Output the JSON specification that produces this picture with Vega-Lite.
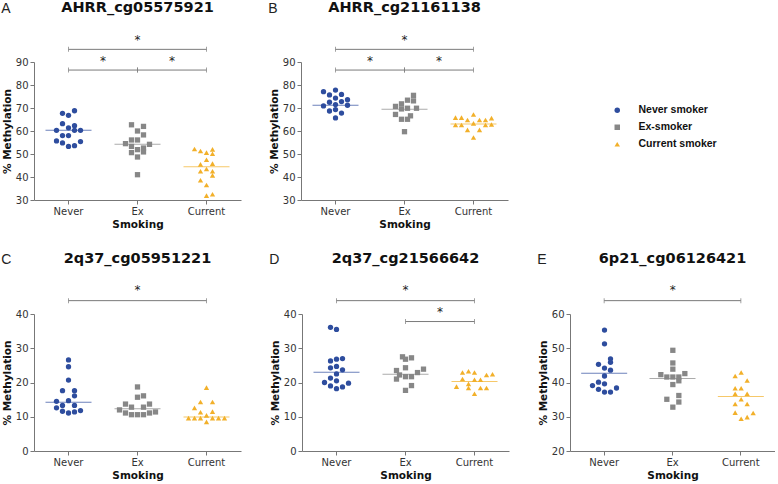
{
"$schema": "https://vega.github.io/schema/vega-lite/v6.json",
"background": "white",
"padding": {"left": 1, "top": 0, "right": 0, "bottom": 0},
"config": {
  "view": {"stroke": null},
  "font": "DejaVu Sans",
  "axis": {"labelFont": "DejaVu Sans", "labelFontSize": 10, "labelColor": "#333333", "titleFont": "DejaVu Sans", "titleFontSize": 10.5, "titleFontWeight": "bold", "titleColor": "#111111", "domainColor": "#777777", "tickColor": "#777777", "tickSize": 4, "grid": false, "labelPadding": 2, "labelOverlap": false},
  "axisX": {"labelAngle": 0, "titlePadding": 3},
  "axisY": {"titlePadding": 3},
  "title": {"font": "Liberation Sans", "fontSize": 14, "fontWeight": "normal", "anchor": "start", "frame": "bounds", "color": "#222222", "offset": -16, "dx": -1},
  "legend": {"title": null, "labelFont": "Liberation Sans", "labelFontWeight": "bold", "labelFontSize": 10.5, "labelColor": "#111111", "symbolSize": 30, "labelOffset": 16, "rowPadding": 6, "symbolStrokeWidth": 0, "padding": 0}
},
"datasets": {
  "points": [
    {"p":"A","g":"Never","s":-1,"v":67.7},{"p":"A","g":"Never","s":0,"v":66.8},{"p":"A","g":"Never","s":1,"v":68.8},
    {"p":"A","g":"Never","s":-1,"v":63.2},{"p":"A","g":"Never","s":1,"v":62.3},{"p":"A","g":"Never","s":0,"v":61.4},
    {"p":"A","g":"Never","s":1,"v":60.3},{"p":"A","g":"Never","s":-2,"v":60.3},{"p":"A","g":"Never","s":2,"v":60.3},
    {"p":"A","g":"Never","s":-1,"v":58.0},{"p":"A","g":"Never","s":0,"v":58.0},{"p":"A","g":"Never","s":-2,"v":55.7},
    {"p":"A","g":"Never","s":-1,"v":54.8},{"p":"A","g":"Never","s":0,"v":53.3},{"p":"A","g":"Never","s":1,"v":53.6},{"p":"A","g":"Never","s":2,"v":55.4},
    {"p":"A","g":"Ex","s":-1,"v":62.7},{"p":"A","g":"Ex","s":1,"v":62.0},{"p":"A","g":"Ex","s":0,"v":60.0},{"p":"A","g":"Ex","s":1,"v":58.3},
    {"p":"A","g":"Ex","s":-1,"v":56.1},{"p":"A","g":"Ex","s":0,"v":56.1},{"p":"A","g":"Ex","s":-2,"v":54.5},{"p":"A","g":"Ex","s":2,"v":54.2},
    {"p":"A","g":"Ex","s":-1,"v":53.3},{"p":"A","g":"Ex","s":0,"v":51.9},{"p":"A","g":"Ex","s":1,"v":52.6},{"p":"A","g":"Ex","s":1,"v":50.9},
    {"p":"A","g":"Ex","s":-1,"v":50.6},{"p":"A","g":"Ex","s":0,"v":48.7},{"p":"A","g":"Ex","s":0,"v":41.0},
    {"p":"A","g":"Current","s":-2,"v":52.2},{"p":"A","g":"Current","s":-1,"v":51.3},{"p":"A","g":"Current","s":0,"v":50.6},{"p":"A","g":"Current","s":1,"v":52.0},
    {"p":"A","g":"Current","s":1,"v":50.1},{"p":"A","g":"Current","s":0,"v":47.5},{"p":"A","g":"Current","s":-1,"v":45.5},{"p":"A","g":"Current","s":1,"v":45.8},
    {"p":"A","g":"Current","s":0,"v":43.5},{"p":"A","g":"Current","s":-1,"v":42.5},{"p":"A","g":"Current","s":1,"v":42.5},{"p":"A","g":"Current","s":1,"v":40.7},
    {"p":"A","g":"Current","s":-1,"v":38.6},{"p":"A","g":"Current","s":0,"v":36.5},{"p":"A","g":"Current","s":0,"v":31.9},{"p":"A","g":"Current","s":1,"v":32.5},

    {"p":"B","g":"Never","s":-2,"v":77.1},{"p":"B","g":"Never","s":0,"v":77.8},{"p":"B","g":"Never","s":-1,"v":75.7},{"p":"B","g":"Never","s":1,"v":75.9},
    {"p":"B","g":"Never","s":0,"v":74.3},{"p":"B","g":"Never","s":2,"v":73.6},{"p":"B","g":"Never","s":-1,"v":72.5},{"p":"B","g":"Never","s":1,"v":72.8},
    {"p":"B","g":"Never","s":-2,"v":70.9},{"p":"B","g":"Never","s":0,"v":71.5},{"p":"B","g":"Never","s":2,"v":71.2},{"p":"B","g":"Never","s":0,"v":69.3},
    {"p":"B","g":"Never","s":-1,"v":68.7},{"p":"B","g":"Never","s":1,"v":67.8},{"p":"B","g":"Never","s":0,"v":65.7},
    {"p":"B","g":"Ex","s":1.5,"v":75.5},{"p":"B","g":"Ex","s":0.5,"v":73.4},{"p":"B","g":"Ex","s":1.5,"v":73.1},{"p":"B","g":"Ex","s":-0.5,"v":71.8},
    {"p":"B","g":"Ex","s":-1.5,"v":70.7},{"p":"B","g":"Ex","s":0.5,"v":69.9},{"p":"B","g":"Ex","s":-0.5,"v":69.6},{"p":"B","g":"Ex","s":2,"v":69.9},
    {"p":"B","g":"Ex","s":-1.5,"v":67.2},{"p":"B","g":"Ex","s":1,"v":66.6},{"p":"B","g":"Ex","s":-0.5,"v":65.1},{"p":"B","g":"Ex","s":0.5,"v":65.1},
    {"p":"B","g":"Ex","s":0,"v":59.7},
    {"p":"B","g":"Current","s":-3,"v":65.8},{"p":"B","g":"Current","s":-2,"v":65.8},{"p":"B","g":"Current","s":-1,"v":64.8},{"p":"B","g":"Current","s":0,"v":67.2},
    {"p":"B","g":"Current","s":1,"v":64.8},{"p":"B","g":"Current","s":2,"v":64.8},{"p":"B","g":"Current","s":3,"v":65.6},
    {"p":"B","g":"Current","s":-3,"v":62.6},{"p":"B","g":"Current","s":-2,"v":62.6},{"p":"B","g":"Current","s":0,"v":63.3},
    {"p":"B","g":"Current","s":2,"v":62.6},{"p":"B","g":"Current","s":3,"v":62.8},{"p":"B","g":"Current","s":-1,"v":60.5},
    {"p":"B","g":"Current","s":1,"v":60.5},{"p":"B","g":"Current","s":0,"v":57.2},

    {"p":"C","g":"Never","s":0,"v":26.6},{"p":"C","g":"Never","s":0,"v":24.6},{"p":"C","g":"Never","s":0,"v":20.7},{"p":"C","g":"Never","s":-1,"v":17.6},
    {"p":"C","g":"Never","s":1,"v":17.6},{"p":"C","g":"Never","s":1,"v":16.1},{"p":"C","g":"Never","s":0,"v":14.7},{"p":"C","g":"Never","s":-2,"v":14.5},
    {"p":"C","g":"Never","s":-1,"v":13.3},{"p":"C","g":"Never","s":1,"v":13.3},{"p":"C","g":"Never","s":-2,"v":12.6},{"p":"C","g":"Never","s":2,"v":11.8},
    {"p":"C","g":"Never","s":-1,"v":11.6},{"p":"C","g":"Never","s":1,"v":11.4},{"p":"C","g":"Never","s":0,"v":11.1},
    {"p":"C","g":"Ex","s":0,"v":18.7},{"p":"C","g":"Ex","s":0,"v":15.7},{"p":"C","g":"Ex","s":1,"v":16.1},{"p":"C","g":"Ex","s":-2,"v":13.7},
    {"p":"C","g":"Ex","s":2,"v":13.7},{"p":"C","g":"Ex","s":-1,"v":12.8},{"p":"C","g":"Ex","s":1,"v":12.8},{"p":"C","g":"Ex","s":-3,"v":12.0},
    {"p":"C","g":"Ex","s":3,"v":11.4},{"p":"C","g":"Ex","s":-2,"v":11.1},{"p":"C","g":"Ex","s":-1,"v":10.6},{"p":"C","g":"Ex","s":0,"v":10.6},
    {"p":"C","g":"Ex","s":1,"v":10.6},{"p":"C","g":"Ex","s":2,"v":11.1},
    {"p":"C","g":"Current","s":0,"v":18.5},{"p":"C","g":"Current","s":-1,"v":14.3},{"p":"C","g":"Current","s":1,"v":14.3},{"p":"C","g":"Current","s":-2,"v":12.6},
    {"p":"C","g":"Current","s":-1,"v":11.3},{"p":"C","g":"Current","s":1,"v":11.5},{"p":"C","g":"Current","s":0,"v":10.4},{"p":"C","g":"Current","s":-3,"v":9.6},
    {"p":"C","g":"Current","s":-2,"v":9.6},{"p":"C","g":"Current","s":-1,"v":9.6},{"p":"C","g":"Current","s":1,"v":9.6},{"p":"C","g":"Current","s":2,"v":9.6},
    {"p":"C","g":"Current","s":3,"v":9.6},{"p":"C","g":"Current","s":0,"v":8.5},

    {"p":"D","g":"Never","s":-1,"v":36.1},{"p":"D","g":"Never","s":0,"v":35.5},{"p":"D","g":"Never","s":-1,"v":26.3},{"p":"D","g":"Never","s":0,"v":26.8},
    {"p":"D","g":"Never","s":1,"v":27.0},{"p":"D","g":"Never","s":-1,"v":24.3},{"p":"D","g":"Never","s":0,"v":24.7},{"p":"D","g":"Never","s":1,"v":23.7},
    {"p":"D","g":"Never","s":0,"v":22.5},{"p":"D","g":"Never","s":-1,"v":21.3},{"p":"D","g":"Never","s":0,"v":20.5},{"p":"D","g":"Never","s":-2,"v":20.0},
    {"p":"D","g":"Never","s":2,"v":19.8},{"p":"D","g":"Never","s":-1,"v":19.0},{"p":"D","g":"Never","s":1,"v":18.7},{"p":"D","g":"Never","s":0,"v":18.2},
    {"p":"D","g":"Ex","s":-0.5,"v":27.5},{"p":"D","g":"Ex","s":1,"v":27.2},{"p":"D","g":"Ex","s":0,"v":26.8},{"p":"D","g":"Ex","s":-1.5,"v":23.5},
    {"p":"D","g":"Ex","s":0,"v":24.3},{"p":"D","g":"Ex","s":3,"v":23.9},{"p":"D","g":"Ex","s":2,"v":22.9},{"p":"D","g":"Ex","s":-1,"v":22.2},
    {"p":"D","g":"Ex","s":1,"v":21.7},{"p":"D","g":"Ex","s":0,"v":21.7},{"p":"D","g":"Ex","s":-1.5,"v":21.0},{"p":"D","g":"Ex","s":1,"v":19.1},
    {"p":"D","g":"Ex","s":0,"v":17.7},
    {"p":"D","g":"Current","s":-2,"v":22.9},{"p":"D","g":"Current","s":-1,"v":23.3},{"p":"D","g":"Current","s":0,"v":22.9},{"p":"D","g":"Current","s":2,"v":22.2},
    {"p":"D","g":"Current","s":3,"v":22.4},{"p":"D","g":"Current","s":-2,"v":21.0},{"p":"D","g":"Current","s":0,"v":20.8},{"p":"D","g":"Current","s":1,"v":20.8},
    {"p":"D","g":"Current","s":-3,"v":18.8},{"p":"D","g":"Current","s":-1,"v":18.4},{"p":"D","g":"Current","s":1,"v":18.4},{"p":"D","g":"Current","s":2,"v":18.4},
    {"p":"D","g":"Current","s":-1,"v":19.6},{"p":"D","g":"Current","s":0,"v":16.7},

    {"p":"E","g":"Never","s":0,"v":55.3},{"p":"E","g":"Never","s":0,"v":51.3},{"p":"E","g":"Never","s":1,"v":46.9},{"p":"E","g":"Never","s":1,"v":45.9},
    {"p":"E","g":"Never","s":-1,"v":45.3},{"p":"E","g":"Never","s":0,"v":44.2},{"p":"E","g":"Never","s":1,"v":43.6},{"p":"E","g":"Never","s":0,"v":41.9},
    {"p":"E","g":"Never","s":-1,"v":40.1},{"p":"E","g":"Never","s":0,"v":39.6},{"p":"E","g":"Never","s":-2,"v":39.1},{"p":"E","g":"Never","s":2,"v":38.4},
    {"p":"E","g":"Never","s":-1,"v":38.0},{"p":"E","g":"Never","s":0,"v":37.2},{"p":"E","g":"Never","s":1,"v":37.2},
    {"p":"E","g":"Ex","s":0,"v":49.4},{"p":"E","g":"Ex","s":0,"v":45.7},{"p":"E","g":"Ex","s":0,"v":43.9},{"p":"E","g":"Ex","s":-2,"v":42.3},
    {"p":"E","g":"Ex","s":2,"v":42.6},{"p":"E","g":"Ex","s":-1,"v":41.6},{"p":"E","g":"Ex","s":0,"v":41.6},{"p":"E","g":"Ex","s":1,"v":41.6},
    {"p":"E","g":"Ex","s":1,"v":40.5},{"p":"E","g":"Ex","s":0,"v":39.4},{"p":"E","g":"Ex","s":1,"v":36.2},{"p":"E","g":"Ex","s":-1,"v":35.1},
    {"p":"E","g":"Ex","s":1,"v":34.3},{"p":"E","g":"Ex","s":0,"v":32.8},
    {"p":"E","g":"Current","s":0,"v":42.9},{"p":"E","g":"Current","s":-1,"v":41.9},{"p":"E","g":"Current","s":1,"v":40.6},{"p":"E","g":"Current","s":-1,"v":38.3},
    {"p":"E","g":"Current","s":0,"v":38.3},{"p":"E","g":"Current","s":-1,"v":36.7},{"p":"E","g":"Current","s":1,"v":36.7},{"p":"E","g":"Current","s":0,"v":35.1},
    {"p":"E","g":"Current","s":-1,"v":33.7},{"p":"E","g":"Current","s":1,"v":33.7},{"p":"E","g":"Current","s":-1,"v":31.2},{"p":"E","g":"Current","s":2,"v":31.1},
    {"p":"E","g":"Current","s":0,"v":29.4},{"p":"E","g":"Current","s":1,"v":29.9}
  ],
  "medians": [
    {"p":"A","g":"Never","v":60.3},{"p":"A","g":"Ex","v":54.2},{"p":"A","g":"Current","v":44.5},
    {"p":"B","g":"Never","v":71.2},{"p":"B","g":"Ex","v":69.5},{"p":"B","g":"Current","v":63.0},
    {"p":"C","g":"Never","v":14.2},{"p":"C","g":"Ex","v":12.3},{"p":"C","g":"Current","v":9.9},
    {"p":"D","g":"Never","v":23.0},{"p":"D","g":"Ex","v":22.4},{"p":"D","g":"Current","v":20.3},
    {"p":"E","g":"Never","v":42.7},{"p":"E","g":"Ex","v":41.2},{"p":"E","g":"Current","v":35.9}
  ],
  "brackets": [
    {"p":"A","from":"Never","to":"Current","y":95.5,"sg":"Ex","so":0,"sy":97.8},
    {"p":"A","from":"Never","to":"Ex","y":86.5,"sg":"Never","so":5.75,"sy":88.9},
    {"p":"A","from":"Ex","to":"Current","y":86.5,"sg":"Ex","so":5.75,"sy":88.9},
    {"p":"B","from":"Never","to":"Current","y":95.5,"sg":"Ex","so":0,"sy":97.8},
    {"p":"B","from":"Never","to":"Ex","y":86.5,"sg":"Never","so":5.75,"sy":88.9},
    {"p":"B","from":"Ex","to":"Current","y":86.5,"sg":"Ex","so":5.75,"sy":88.9},
    {"p":"C","from":"Never","to":"Current","y":43.9,"sg":"Ex","so":0,"sy":45.7},
    {"p":"D","from":"Never","to":"Current","y":43.9,"sg":"Ex","so":0,"sy":45.7},
    {"p":"D","from":"Ex","to":"Current","y":37.8,"sg":"Ex","so":5.75,"sy":39.5},
    {"p":"E","from":"Never","to":"Current","y":63.9,"sg":"Ex","so":0,"sy":65.7}
  ],
  "titles": [
    {"p":"A","g":"Ex","y":111.6,"name":"AHRR_cg05575921"},
    {"p":"B","g":"Ex","y":111.6,"name":"AHRR_cg21161138"},
    {"p":"C","g":"Ex","y":54.8,"name":"2q37_cg05951221"},
    {"p":"D","g":"Ex","y":54.8,"name":"2q37_cg21566642"},
    {"p":"E","g":"Ex","y":74.8,"name":"6p21_cg06126421"}
  ]
},
"bounds": "full",
"spacing": 21,
"resolve": {"scale": {"color": "independent", "shape": "independent"}, "legend": {"color": "independent", "shape": "independent"}},
"vconcat": [
 {"hconcat": [
  {"width": 207, "height": 138, "title": {"text": "A"},
   "layer": [
    {"data": {"name": "points"}, "transform": [{"filter": "datum.p == 'A'"}],
     "mark": {"type": "point", "filled": true, "opacity": 1, "size": 28},
     "encoding": {
      "x": {"field": "g", "type": "nominal", "title": "Smoking", "scale": {"domain": ["Never","Ex","Current"], "paddingInner": 0, "paddingOuter": 0}, "axis": {"labelAngle": 0}},
      "xOffset": {"field": "s", "type": "quantitative", "scale": {"domain": [-5.75, 5.75], "nice": false, "zero": false}},
      "y": {"field": "v", "type": "quantitative", "title": "% Methylation", "scale": {"domain": [30, 90], "nice": false, "zero": false}, "axis": {"values": [30,40,50,60,70,80,90]}},
      "color": {"field": "g", "type": "nominal", "scale": {"domain": ["Never","Ex","Current"], "range": ["#2E4D9E","#878787","#F2B02A"]}, "legend": null},
      "shape": {"field": "g", "type": "nominal", "scale": {"domain": ["Never","Ex","Current"], "range": ["circle","square","triangle-up"]}, "legend": null}
     }},
    {"data": {"name": "medians"}, "transform": [{"filter": "datum.p == 'A'"}],
     "mark": {"type": "tick", "thickness": 1, "size": 46},
     "encoding": {"x": {"field": "g", "type": "nominal", "title": "Smoking"}, "y": {"field": "v", "type": "quantitative", "title": "% Methylation", "axis": {"values": [30,40,50,60,70,80,90]}}, "color": {"field": "g", "type": "nominal", "legend": null}}},
    {"data": {"name": "brackets"}, "transform": [{"filter": "datum.p == 'A'"}],
     "mark": {"type": "rule", "color": "#7a7a7a", "strokeWidth": 1},
     "encoding": {"x": {"field": "from", "type": "nominal", "title": "Smoking"}, "x2": {"field": "to"}, "y": {"field": "y", "type": "quantitative", "title": "% Methylation", "axis": {"values": [30,40,50,60,70,80,90]}}}},
    {"data": {"name": "brackets"}, "transform": [{"filter": "datum.p == 'A'"}, {"fold": ["from", "to"], "as": ["end", "g"]}],
     "mark": {"type": "tick", "orient": "vertical", "color": "#7a7a7a", "thickness": 1, "size": 5},
     "encoding": {"x": {"field": "g", "type": "nominal", "title": "Smoking"}, "y": {"field": "y", "type": "quantitative", "title": "% Methylation", "axis": {"values": [30,40,50,60,70,80,90]}}}},
    {"data": {"name": "brackets"}, "transform": [{"filter": "datum.p == 'A'"}],
     "mark": {"type": "text", "font": "DejaVu Sans", "fontSize": 12, "baseline": "alphabetic", "color": "#222222"},
     "encoding": {"x": {"field": "sg", "type": "nominal", "title": "Smoking"}, "xOffset": {"field": "so", "type": "quantitative"}, "y": {"field": "sy", "type": "quantitative", "title": "% Methylation", "axis": {"values": [30,40,50,60,70,80,90]}}, "text": {"value": "*"}}},
    {"data": {"name": "titles"}, "transform": [{"filter": "datum.p == 'A'"}],
     "mark": {"type": "text", "font": "DejaVu Sans", "fontSize": 14.5, "fontWeight": "bold", "baseline": "alphabetic", "color": "#111111"},
     "encoding": {"x": {"field": "g", "type": "nominal", "title": "Smoking"}, "y": {"field": "y", "type": "quantitative", "title": "% Methylation", "axis": {"values": [30,40,50,60,70,80,90]}}, "text": {"field": "name"}}}
   ]},
  {"width": 207, "height": 138, "title": {"text": "B"},
   "layer": [
    {"data": {"name": "points"}, "transform": [{"filter": "datum.p == 'B'"}],
     "mark": {"type": "point", "filled": true, "opacity": 1, "size": 28},
     "encoding": {
      "x": {"field": "g", "type": "nominal", "title": "Smoking", "scale": {"domain": ["Never","Ex","Current"], "paddingInner": 0, "paddingOuter": 0}, "axis": {"labelAngle": 0}},
      "xOffset": {"field": "s", "type": "quantitative", "scale": {"domain": [-5.75, 5.75], "nice": false, "zero": false}},
      "y": {"field": "v", "type": "quantitative", "title": "% Methylation", "scale": {"domain": [30, 90], "nice": false, "zero": false}, "axis": {"values": [30,40,50,60,70,80,90]}},
      "color": {"field": "g", "type": "nominal", "scale": {"domain": ["Never","Ex","Current"], "range": ["#2E4D9E","#878787","#F2B02A"]}, "legend": {"orient": "none", "legendX": 311, "legendY": 43, "labelExpr": "datum.label == 'Never' ? 'Never smoker' : datum.label == 'Ex' ? 'Ex-smoker' : 'Current smoker'"}},
      "shape": {"field": "g", "type": "nominal", "scale": {"domain": ["Never","Ex","Current"], "range": ["circle","square","triangle-up"]}, "legend": {"orient": "none", "legendX": 311, "legendY": 43, "labelExpr": "datum.label == 'Never' ? 'Never smoker' : datum.label == 'Ex' ? 'Ex-smoker' : 'Current smoker'"}}
     }},
    {"data": {"name": "medians"}, "transform": [{"filter": "datum.p == 'B'"}],
     "mark": {"type": "tick", "thickness": 1, "size": 46},
     "encoding": {"x": {"field": "g", "type": "nominal", "title": "Smoking"}, "y": {"field": "v", "type": "quantitative", "title": "% Methylation", "axis": {"values": [30,40,50,60,70,80,90]}}, "color": {"field": "g", "type": "nominal"}}},
    {"data": {"name": "brackets"}, "transform": [{"filter": "datum.p == 'B'"}],
     "mark": {"type": "rule", "color": "#7a7a7a", "strokeWidth": 1},
     "encoding": {"x": {"field": "from", "type": "nominal", "title": "Smoking"}, "x2": {"field": "to"}, "y": {"field": "y", "type": "quantitative", "title": "% Methylation", "axis": {"values": [30,40,50,60,70,80,90]}}}},
    {"data": {"name": "brackets"}, "transform": [{"filter": "datum.p == 'B'"}, {"fold": ["from", "to"], "as": ["end", "g"]}],
     "mark": {"type": "tick", "orient": "vertical", "color": "#7a7a7a", "thickness": 1, "size": 5},
     "encoding": {"x": {"field": "g", "type": "nominal", "title": "Smoking"}, "y": {"field": "y", "type": "quantitative", "title": "% Methylation", "axis": {"values": [30,40,50,60,70,80,90]}}}},
    {"data": {"name": "brackets"}, "transform": [{"filter": "datum.p == 'B'"}],
     "mark": {"type": "text", "font": "DejaVu Sans", "fontSize": 12, "baseline": "alphabetic", "color": "#222222"},
     "encoding": {"x": {"field": "sg", "type": "nominal", "title": "Smoking"}, "xOffset": {"field": "so", "type": "quantitative"}, "y": {"field": "sy", "type": "quantitative", "title": "% Methylation", "axis": {"values": [30,40,50,60,70,80,90]}}, "text": {"value": "*"}}},
    {"data": {"name": "titles"}, "transform": [{"filter": "datum.p == 'B'"}],
     "mark": {"type": "text", "font": "DejaVu Sans", "fontSize": 14.5, "fontWeight": "bold", "baseline": "alphabetic", "color": "#111111"},
     "encoding": {"x": {"field": "g", "type": "nominal", "title": "Smoking"}, "y": {"field": "y", "type": "quantitative", "title": "% Methylation", "axis": {"values": [30,40,50,60,70,80,90]}}, "text": {"field": "name"}}}
   ]}
 ], "spacing": 60, "bounds": "flush",
 "resolve": {"scale": {"color": "independent", "shape": "independent"}, "legend": {"color": "independent", "shape": "independent"}}},
 {"hconcat": [
  {"width": 207, "height": 137, "title": {"text": "C"},
   "layer": [
    {"data": {"name": "points"}, "transform": [{"filter": "datum.p == 'C'"}],
     "mark": {"type": "point", "filled": true, "opacity": 1, "size": 28},
     "encoding": {
      "x": {"field": "g", "type": "nominal", "title": "Smoking", "scale": {"domain": ["Never","Ex","Current"], "paddingInner": 0, "paddingOuter": 0}, "axis": {"labelAngle": 0}},
      "xOffset": {"field": "s", "type": "quantitative", "scale": {"domain": [-5.75, 5.75], "nice": false, "zero": false}},
      "y": {"field": "v", "type": "quantitative", "title": "% Methylation", "scale": {"domain": [0, 40], "nice": false, "zero": false}, "axis": {"values": [0,10,20,30,40]}},
      "color": {"field": "g", "type": "nominal", "scale": {"domain": ["Never","Ex","Current"], "range": ["#2E4D9E","#878787","#F2B02A"]}, "legend": null},
      "shape": {"field": "g", "type": "nominal", "scale": {"domain": ["Never","Ex","Current"], "range": ["circle","square","triangle-up"]}, "legend": null}
     }},
    {"data": {"name": "medians"}, "transform": [{"filter": "datum.p == 'C'"}],
     "mark": {"type": "tick", "thickness": 1, "size": 46},
     "encoding": {"x": {"field": "g", "type": "nominal", "title": "Smoking"}, "y": {"field": "v", "type": "quantitative", "title": "% Methylation", "axis": {"values": [0,10,20,30,40]}}, "color": {"field": "g", "type": "nominal", "legend": null}}},
    {"data": {"name": "brackets"}, "transform": [{"filter": "datum.p == 'C'"}],
     "mark": {"type": "rule", "color": "#7a7a7a", "strokeWidth": 1},
     "encoding": {"x": {"field": "from", "type": "nominal", "title": "Smoking"}, "x2": {"field": "to"}, "y": {"field": "y", "type": "quantitative", "title": "% Methylation", "axis": {"values": [0,10,20,30,40]}}}},
    {"data": {"name": "brackets"}, "transform": [{"filter": "datum.p == 'C'"}, {"fold": ["from", "to"], "as": ["end", "g"]}],
     "mark": {"type": "tick", "orient": "vertical", "color": "#7a7a7a", "thickness": 1, "size": 5},
     "encoding": {"x": {"field": "g", "type": "nominal", "title": "Smoking"}, "y": {"field": "y", "type": "quantitative", "title": "% Methylation", "axis": {"values": [0,10,20,30,40]}}}},
    {"data": {"name": "brackets"}, "transform": [{"filter": "datum.p == 'C'"}],
     "mark": {"type": "text", "font": "DejaVu Sans", "fontSize": 12, "baseline": "alphabetic", "color": "#222222"},
     "encoding": {"x": {"field": "sg", "type": "nominal", "title": "Smoking"}, "xOffset": {"field": "so", "type": "quantitative"}, "y": {"field": "sy", "type": "quantitative", "title": "% Methylation", "axis": {"values": [0,10,20,30,40]}}, "text": {"value": "*"}}},
    {"data": {"name": "titles"}, "transform": [{"filter": "datum.p == 'C'"}],
     "mark": {"type": "text", "font": "DejaVu Sans", "fontSize": 14.5, "fontWeight": "bold", "baseline": "alphabetic", "color": "#111111"},
     "encoding": {"x": {"field": "g", "type": "nominal", "title": "Smoking"}, "y": {"field": "y", "type": "quantitative", "title": "% Methylation", "axis": {"values": [0,10,20,30,40]}}, "text": {"field": "name"}}}
   ]},
  {"width": 207, "height": 137, "title": {"text": "D"},
   "layer": [
    {"data": {"name": "points"}, "transform": [{"filter": "datum.p == 'D'"}],
     "mark": {"type": "point", "filled": true, "opacity": 1, "size": 28},
     "encoding": {
      "x": {"field": "g", "type": "nominal", "title": "Smoking", "scale": {"domain": ["Never","Ex","Current"], "paddingInner": 0, "paddingOuter": 0}, "axis": {"labelAngle": 0}},
      "xOffset": {"field": "s", "type": "quantitative", "scale": {"domain": [-5.75, 5.75], "nice": false, "zero": false}},
      "y": {"field": "v", "type": "quantitative", "title": "% Methylation", "scale": {"domain": [0, 40], "nice": false, "zero": false}, "axis": {"values": [0,10,20,30,40]}},
      "color": {"field": "g", "type": "nominal", "scale": {"domain": ["Never","Ex","Current"], "range": ["#2E4D9E","#878787","#F2B02A"]}, "legend": null},
      "shape": {"field": "g", "type": "nominal", "scale": {"domain": ["Never","Ex","Current"], "range": ["circle","square","triangle-up"]}, "legend": null}
     }},
    {"data": {"name": "medians"}, "transform": [{"filter": "datum.p == 'D'"}],
     "mark": {"type": "tick", "thickness": 1, "size": 46},
     "encoding": {"x": {"field": "g", "type": "nominal", "title": "Smoking"}, "y": {"field": "v", "type": "quantitative", "title": "% Methylation", "axis": {"values": [0,10,20,30,40]}}, "color": {"field": "g", "type": "nominal", "legend": null}}},
    {"data": {"name": "brackets"}, "transform": [{"filter": "datum.p == 'D'"}],
     "mark": {"type": "rule", "color": "#7a7a7a", "strokeWidth": 1},
     "encoding": {"x": {"field": "from", "type": "nominal", "title": "Smoking"}, "x2": {"field": "to"}, "y": {"field": "y", "type": "quantitative", "title": "% Methylation", "axis": {"values": [0,10,20,30,40]}}}},
    {"data": {"name": "brackets"}, "transform": [{"filter": "datum.p == 'D'"}, {"fold": ["from", "to"], "as": ["end", "g"]}],
     "mark": {"type": "tick", "orient": "vertical", "color": "#7a7a7a", "thickness": 1, "size": 5},
     "encoding": {"x": {"field": "g", "type": "nominal", "title": "Smoking"}, "y": {"field": "y", "type": "quantitative", "title": "% Methylation", "axis": {"values": [0,10,20,30,40]}}}},
    {"data": {"name": "brackets"}, "transform": [{"filter": "datum.p == 'D'"}],
     "mark": {"type": "text", "font": "DejaVu Sans", "fontSize": 12, "baseline": "alphabetic", "color": "#222222"},
     "encoding": {"x": {"field": "sg", "type": "nominal", "title": "Smoking"}, "xOffset": {"field": "so", "type": "quantitative"}, "y": {"field": "sy", "type": "quantitative", "title": "% Methylation", "axis": {"values": [0,10,20,30,40]}}, "text": {"value": "*"}}},
    {"data": {"name": "titles"}, "transform": [{"filter": "datum.p == 'D'"}],
     "mark": {"type": "text", "font": "DejaVu Sans", "fontSize": 14.5, "fontWeight": "bold", "baseline": "alphabetic", "color": "#111111"},
     "encoding": {"x": {"field": "g", "type": "nominal", "title": "Smoking"}, "y": {"field": "y", "type": "quantitative", "title": "% Methylation", "axis": {"values": [0,10,20,30,40]}}, "text": {"field": "name"}}}
   ]},
  {"width": 205, "height": 137, "title": {"text": "E"},
   "layer": [
    {"data": {"name": "points"}, "transform": [{"filter": "datum.p == 'E'"}],
     "mark": {"type": "point", "filled": true, "opacity": 1, "size": 28},
     "encoding": {
      "x": {"field": "g", "type": "nominal", "title": "Smoking", "scale": {"domain": ["Never","Ex","Current"], "paddingInner": 0, "paddingOuter": 0}, "axis": {"labelAngle": 0}},
      "xOffset": {"field": "s", "type": "quantitative", "scale": {"domain": [-5.75, 5.75], "nice": false, "zero": false}},
      "y": {"field": "v", "type": "quantitative", "title": "% Methylation", "scale": {"domain": [20, 60], "nice": false, "zero": false}, "axis": {"values": [20,30,40,50,60]}},
      "color": {"field": "g", "type": "nominal", "scale": {"domain": ["Never","Ex","Current"], "range": ["#2E4D9E","#878787","#F2B02A"]}, "legend": null},
      "shape": {"field": "g", "type": "nominal", "scale": {"domain": ["Never","Ex","Current"], "range": ["circle","square","triangle-up"]}, "legend": null}
     }},
    {"data": {"name": "medians"}, "transform": [{"filter": "datum.p == 'E'"}],
     "mark": {"type": "tick", "thickness": 1, "size": 46},
     "encoding": {"x": {"field": "g", "type": "nominal", "title": "Smoking"}, "y": {"field": "v", "type": "quantitative", "title": "% Methylation", "axis": {"values": [20,30,40,50,60]}}, "color": {"field": "g", "type": "nominal", "legend": null}}},
    {"data": {"name": "brackets"}, "transform": [{"filter": "datum.p == 'E'"}],
     "mark": {"type": "rule", "color": "#7a7a7a", "strokeWidth": 1},
     "encoding": {"x": {"field": "from", "type": "nominal", "title": "Smoking"}, "x2": {"field": "to"}, "y": {"field": "y", "type": "quantitative", "title": "% Methylation", "axis": {"values": [20,30,40,50,60]}}}},
    {"data": {"name": "brackets"}, "transform": [{"filter": "datum.p == 'E'"}, {"fold": ["from", "to"], "as": ["end", "g"]}],
     "mark": {"type": "tick", "orient": "vertical", "color": "#7a7a7a", "thickness": 1, "size": 5},
     "encoding": {"x": {"field": "g", "type": "nominal", "title": "Smoking"}, "y": {"field": "y", "type": "quantitative", "title": "% Methylation", "axis": {"values": [20,30,40,50,60]}}}},
    {"data": {"name": "brackets"}, "transform": [{"filter": "datum.p == 'E'"}],
     "mark": {"type": "text", "font": "DejaVu Sans", "fontSize": 12, "baseline": "alphabetic", "color": "#222222"},
     "encoding": {"x": {"field": "sg", "type": "nominal", "title": "Smoking"}, "xOffset": {"field": "so", "type": "quantitative"}, "y": {"field": "sy", "type": "quantitative", "title": "% Methylation", "axis": {"values": [20,30,40,50,60]}}, "text": {"value": "*"}}},
    {"data": {"name": "titles"}, "transform": [{"filter": "datum.p == 'E'"}],
     "mark": {"type": "text", "font": "DejaVu Sans", "fontSize": 14.5, "fontWeight": "bold", "baseline": "alphabetic", "color": "#111111"},
     "encoding": {"x": {"field": "g", "type": "nominal", "title": "Smoking"}, "y": {"field": "y", "type": "quantitative", "title": "% Methylation", "axis": {"values": [20,30,40,50,60]}}, "text": {"field": "name"}}}
   ]}
 ], "spacing": 61, "bounds": "flush",
 "resolve": {"scale": {"color": "independent", "shape": "independent"}, "legend": {"color": "independent", "shape": "independent"}}}
]
}
